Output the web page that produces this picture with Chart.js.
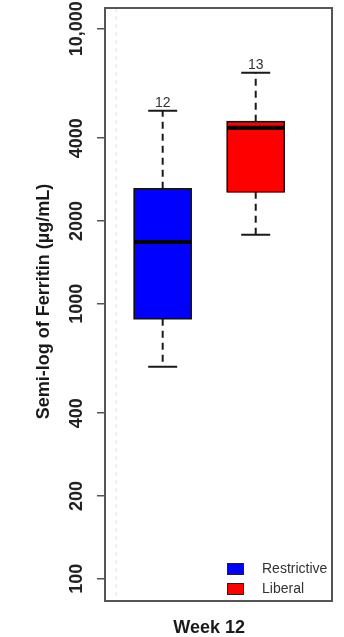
<!DOCTYPE html>
<html><head><meta charset="utf-8">
<script src="https://cdn.jsdelivr.net/npm/chart.js@4.4.1/dist/chart.umd.min.js"></script>
<style>html,body{margin:0;padding:0;background:#fff;}canvas{display:block;}</style>
</head><body>
<canvas id="c" width="344" height="637"></canvas>
<script>
const categories = ['Restrictive', 'Liberal'];
const groupPos = [1, 2];
const whiskerLow = [590, 1783];
const q1 = [882, 2553];
const median = [1679, 4364];
const q3 = [2619, 4594];
const whiskerHigh = [5035, 6920];
const counts = ['12', '13'];
const fills = ['#0000ff', '#ff0000'];
const yTicks = [100, 200, 400, 1000, 2000, 4000, 10000];
const yTickLabels = ['100', '200', '400', '1000', '2000', '4000', '10,000'];
const xTitle = 'Week 12';
const yTitle = 'Semi-log of Ferritin (µg/mL)';

const FONT = '"Liberation Sans", Arial, sans-serif';

const boxPlugin = {
  id: 'boxextras',
  beforeDatasetsDraw(chart) {
    const ctx = chart.ctx, x = chart.scales.x, a = chart.chartArea;
    ctx.save();
    ctx.strokeStyle = '#dddddd';
    ctx.lineWidth = 1;
    ctx.setLineDash([4, 4]);
    const px = x.getPixelForValue(0.5);
    ctx.beginPath(); ctx.moveTo(px, a.top); ctx.lineTo(px, a.bottom); ctx.stroke();
    ctx.restore();
  },
  afterDatasetsDraw(chart) {
    const ctx = chart.ctx, x = chart.scales.x, y = chart.scales.y, a = chart.chartArea;
    const meta = chart.getDatasetMeta(0);
    ctx.save();
    categories.forEach((c, i) => {
      const bar = meta.data[i];
      const cx = bar.x, hw = bar.width / 2;
      ctx.strokeStyle = '#1a1a1a';
      ctx.lineWidth = 2;
      ctx.setLineDash([7, 5]);
      ctx.beginPath();
      ctx.moveTo(cx, y.getPixelForValue(q3[i])); ctx.lineTo(cx, y.getPixelForValue(whiskerHigh[i]));
      ctx.moveTo(cx, y.getPixelForValue(q1[i])); ctx.lineTo(cx, y.getPixelForValue(whiskerLow[i]));
      ctx.stroke();
      ctx.setLineDash([]);
      ctx.beginPath();
      const cw = 14.5;
      const yh = y.getPixelForValue(whiskerHigh[i]), yl = y.getPixelForValue(whiskerLow[i]);
      ctx.moveTo(cx - cw, yh); ctx.lineTo(cx + cw, yh);
      ctx.moveTo(cx - cw, yl); ctx.lineTo(cx + cw, yl);
      ctx.stroke();
      ctx.lineWidth = 1.5;
      ctx.strokeStyle = '#111';
      const yt = y.getPixelForValue(q3[i]), yb = y.getPixelForValue(q1[i]);
      ctx.strokeRect(cx - hw, yt, hw * 2, yb - yt);
      ctx.lineWidth = 4;
      ctx.strokeStyle = '#000';
      const ym = y.getPixelForValue(median[i]);
      ctx.beginPath(); ctx.moveTo(cx - hw, ym); ctx.lineTo(cx + hw, ym); ctx.stroke();
      ctx.fillStyle = '#333';
      ctx.font = '14px ' + FONT;
      ctx.textAlign = 'center';
      ctx.textBaseline = 'bottom';
      ctx.fillText(counts[i], cx, yh - 1);
    });
    ctx.restore();
  },
  afterDraw(chart) {
    const ctx = chart.ctx, x = chart.scales.x, y = chart.scales.y, a = chart.chartArea;
    ctx.save();
    ctx.strokeStyle = '#555';
    ctx.lineWidth = 2;
    ctx.strokeRect(a.left, a.top, a.right - a.left, a.bottom - a.top);
    ctx.fillStyle = '#222';
    ctx.font = 'bold 18px ' + FONT;
    ctx.textAlign = 'center';
    ctx.textBaseline = 'middle';
    yTicks.forEach((v, i) => {
      const py = y.getPixelForValue(v);
      ctx.save();
      ctx.translate(77, py);
      ctx.rotate(-Math.PI / 2);
      ctx.fillText(yTickLabels[i], 0, 0);
      ctx.restore();
    });
    ctx.save();
    ctx.font = 'bold 18px ' + FONT;
    ctx.fillStyle = '#1a1a1a';
    ctx.translate(44, (a.top + a.bottom) / 2 - 3);
    ctx.rotate(-Math.PI / 2);
    ctx.fillText(yTitle, 0, 0);
    ctx.restore();
    ctx.font = 'bold 18px ' + FONT;
    ctx.fillStyle = '#1a1a1a';
    ctx.fillText(xTitle, x.getPixelForValue(1.5), 628);
    ctx.font = '14px ' + FONT;
    ctx.textAlign = 'left';
    categories.forEach((c, i) => {
      const ly = 563 + i * 20;
      ctx.fillStyle = fills[i];
      ctx.fillRect(227, ly, 16, 11);
      ctx.strokeStyle = '#222';
      ctx.lineWidth = 1;
      ctx.strokeRect(227.5, ly + 0.5, 16, 11);
      ctx.fillStyle = '#333';
      ctx.fillText(c, 262, ly + 6.5);
    });
    ctx.restore();
  }
};

new Chart(document.getElementById('c'), {
  type: 'bar',
  data: {
    datasets: [{
      data: categories.map((c, i) => ({ x: groupPos[i], y: [q1[i], q3[i]] })),
      backgroundColor: fills,
      borderColor: '#111',
      borderWidth: 0,
      borderSkipped: false,
      barThickness: 57
    }]
  },
  options: {
    responsive: false,
    devicePixelRatio: 1,
    animation: false,
    layout: { padding: { top: 8, right: 12, bottom: 0, left: 0 } },
    plugins: { legend: { display: false }, tooltip: { enabled: false } },
    scales: {
      x: {
        type: 'linear',
        offset: false,
        min: 0.38, max: 2.82,
        ticks: { display: false },
        grid: { display: false, offset: false },
        border: { display: false },
        afterFit: s => { s.height = 36; }
      },
      y: {
        type: 'logarithmic',
        min: 83, max: 11900,
        afterBuildTicks: s => { s.ticks = yTicks.map(v => ({ value: v })); },
        ticks: { display: false },
        grid: { drawOnChartArea: false, drawTicks: true, tickLength: 8, color: '#555', lineWidth: 1.5 },
        border: { display: false },
        afterFit: s => { s.width = 105; }
      }
    }
  },
  plugins: [boxPlugin]
});
</script>
</body></html>
